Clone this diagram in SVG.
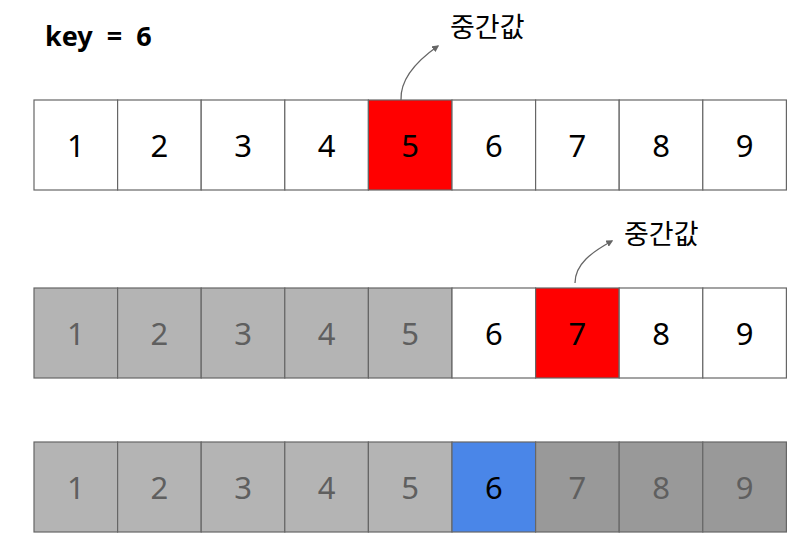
<svg xmlns="http://www.w3.org/2000/svg" width="810" height="550" viewBox="0 0 810 550">
<style>
.c{stroke:#666;stroke-width:1.2}
.w{fill:#fff}.g{fill:#b4b4b4}.d{fill:#999}.r{fill:#ff0000}.b{fill:#4a86e8}
.n{font-family:"Noto Sans","Open Sans",sans-serif;font-size:31px;text-anchor:middle;fill:#000}
.gn{fill:#5f5f5f}
.lbl{font-family:"Noto Sans CJK KR","Noto Sans",sans-serif;font-size:27px;fill:#000}
.arr{fill:none;stroke:#666;stroke-width:1.3;marker-end:url(#ah)}
</style>
<defs>
<marker id="ah" viewBox="0 0 10 10" refX="8" refY="5" markerWidth="7" markerHeight="7" orient="auto" markerUnits="userSpaceOnUse">
<path d="M0,0 L10,5 L0,10 z" fill="#666"/>
</marker>
</defs>
<rect width="810" height="550" fill="#fff"/>
<text id="key" x="45" y="46" font-family="'Noto Sans','Open Sans',sans-serif" font-size="27" font-weight="bold" fill="#000" xml:space="preserve">key  =  6</text>
<g id="row1">
<g id="r1c1"><rect class="c w" x="34" y="100" width="83.6" height="90"/><text class="n" x="75.8" y="157">1</text></g>
<g id="r1c2"><rect class="c w" x="117.6" y="100" width="83.6" height="90"/><text class="n" x="159.4" y="157">2</text></g>
<g id="r1c3"><rect class="c w" x="201.2" y="100" width="83.6" height="90"/><text class="n" x="243" y="157">3</text></g>
<g id="r1c4"><rect class="c w" x="284.8" y="100" width="83.6" height="90"/><text class="n" x="326.6" y="157">4</text></g>
<g id="r1c5"><rect class="c r" x="368.4" y="100" width="83.6" height="90"/><text class="n" x="410.2" y="157">5</text></g>
<g id="r1c6"><rect class="c w" x="452" y="100" width="83.6" height="90"/><text class="n" x="493.8" y="157">6</text></g>
<g id="r1c7"><rect class="c w" x="535.6" y="100" width="83.6" height="90"/><text class="n" x="577.4" y="157">7</text></g>
<g id="r1c8"><rect class="c w" x="619.2" y="100" width="83.6" height="90"/><text class="n" x="661" y="157">8</text></g>
<g id="r1c9"><rect class="c w" x="702.8" y="100" width="83.6" height="90"/><text class="n" x="744.6" y="157">9</text></g>
</g>
<g id="row2">
<g id="r2c1"><rect class="c g" x="34" y="288" width="83.6" height="90"/><text class="n gn" x="75.8" y="345">1</text></g>
<g id="r2c2"><rect class="c g" x="117.6" y="288" width="83.6" height="90"/><text class="n gn" x="159.4" y="345">2</text></g>
<g id="r2c3"><rect class="c g" x="201.2" y="288" width="83.6" height="90"/><text class="n gn" x="243" y="345">3</text></g>
<g id="r2c4"><rect class="c g" x="284.8" y="288" width="83.6" height="90"/><text class="n gn" x="326.6" y="345">4</text></g>
<g id="r2c5"><rect class="c g" x="368.4" y="288" width="83.6" height="90"/><text class="n gn" x="410.2" y="345">5</text></g>
<g id="r2c6"><rect class="c w" x="452" y="288" width="83.6" height="90"/><text class="n" x="493.8" y="345">6</text></g>
<g id="r2c7"><rect class="c r" x="535.6" y="288" width="83.6" height="90"/><text class="n" x="577.4" y="345">7</text></g>
<g id="r2c8"><rect class="c w" x="619.2" y="288" width="83.6" height="90"/><text class="n" x="661" y="345">8</text></g>
<g id="r2c9"><rect class="c w" x="702.8" y="288" width="83.6" height="90"/><text class="n" x="744.6" y="345">9</text></g>
</g>
<g id="row3">
<g id="r3c1"><rect class="c g" x="34" y="442" width="83.6" height="90"/><text class="n gn" x="75.8" y="499">1</text></g>
<g id="r3c2"><rect class="c g" x="117.6" y="442" width="83.6" height="90"/><text class="n gn" x="159.4" y="499">2</text></g>
<g id="r3c3"><rect class="c g" x="201.2" y="442" width="83.6" height="90"/><text class="n gn" x="243" y="499">3</text></g>
<g id="r3c4"><rect class="c g" x="284.8" y="442" width="83.6" height="90"/><text class="n gn" x="326.6" y="499">4</text></g>
<g id="r3c5"><rect class="c g" x="368.4" y="442" width="83.6" height="90"/><text class="n gn" x="410.2" y="499">5</text></g>
<g id="r3c6"><rect class="c b" x="452" y="442" width="83.6" height="90"/><text class="n" x="493.8" y="499">6</text></g>
<g id="r3c7"><rect class="c d" x="535.6" y="442" width="83.6" height="90"/><text class="n gn" x="577.4" y="499">7</text></g>
<g id="r3c8"><rect class="c d" x="619.2" y="442" width="83.6" height="90"/><text class="n gn" x="661" y="499">8</text></g>
<g id="r3c9"><rect class="c d" x="702.8" y="442" width="83.6" height="90"/><text class="n gn" x="744.6" y="499">9</text></g>
</g>
<g id="label1"><text class="lbl" x="450" y="37">중간값</text></g>
<g id="label2"><text class="lbl" x="624" y="244">중간값</text></g>
<g id="connectors">
<path class="arr" d="M401,100 C400,78 418,60 438,46"/>
<path class="arr" d="M575,283 C575,264 592,252 612,241"/>
</g>
</svg>
